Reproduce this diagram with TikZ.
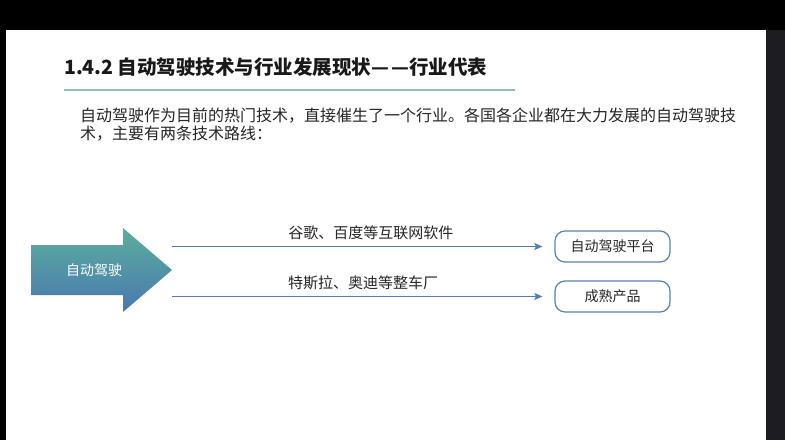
\documentclass[tikz,border=0pt]{standalone}
\usepackage{fontspec}
\newfontfamily\cjk{Noto Sans CJK SC}
\usetikzlibrary{arrows.meta, positioning}
\definecolor{routeblue}{HTML}{4F7FB6}
\definecolor{boxblue}{HTML}{5B82AD}
\definecolor{ruleteal}{HTML}{8CC4B4}
\definecolor{arrowtop}{HTML}{5CAE9E}
\definecolor{arrowbot}{HTML}{4878AE}
\definecolor{sidedark}{HTML}{1C1C22}

\begin{document}
\begin{tikzpicture}[
			x=1pt, y=-1pt,
			font=\cjk,
			title/.style={anchor=west, inner sep=0pt, font=\cjk\bfseries\fontsize{19.5}{22}\selectfont, text=black!90},
			body/.style={anchor=north west, inner sep=0pt, align=left, font=\cjk\fontsize{16}{18}\selectfont, text=black!85},
			bigarrow/.style={top color=arrowtop, bottom color=arrowbot, draw=none},
			arrowtext/.style={inner sep=0pt, text=white, font=\cjk\fontsize{14}{16}\selectfont},
			result/.style={rectangle, draw=boxblue, line width=1.2pt, rounded corners=10pt, minimum width=115pt, minimum height=31pt, inner sep=0pt, font=\cjk\fontsize{14}{16}\selectfont, text=black!85},
			route/.style={-{Stealth[length=8pt, width=7pt, inset=1.5pt]}, line width=1.4pt, color=routeblue, shorten >=12pt},
			tag/.style={above, inner sep=0pt, yshift=6pt, font=\cjk\fontsize{15}{17}\selectfont, text=black!85}
			]
			
			% --- Screen frame ---
			\useasboundingbox (0,0) rectangle (785,440);
			\fill[black] (0,0) rectangle (785,440);
			\fill[sidedark] (766,30) rectangle (785,440);
			\fill[white] (6,30) rectangle (766,440);
			
			% --- Heading ---
			\node[title] (head) at (64,67) {1.4.2 自动驾驶技术与行业发展现状—\kern2pt—行业代表};
			\draw[ruleteal, line width=2.5pt] (64,90) -- (515,90);
			\node[body] (intro) at (80,108) {自动驾驶作为目前的热门技术，直接催生了一个行业。各国各企业都在大力发展的自动驾驶技\\术，主要有两条技术路线：};
			
			% --- Big arrow ---
			\shade[bigarrow] (31,245) -- (123,245) -- (123,228) -- (172,270) -- (123,312) -- (123,295) -- (31,295) -- cycle;
			\node[arrowtext] (drive) at (94,270) {自动驾驶};
			\coordinate (tip) at (172,270);
			
			% --- Results ---
			\node[result] (platform) at (612.5,246.5) {自动驾驶平台};
			\node[result] (product) at (612.5,296.5) {成熟产品};
			
			% --- Two routes ---
			\draw[route] (tip |- platform.west) -- (platform.west) node[tag, pos=0.52] {谷歌、百度等互联网软件};
			\draw[route] (tip |- product.west) -- (product.west) node[tag, pos=0.5] {特斯拉、奥迪等整车厂};
			
			\end{tikzpicture}
\end{document}
